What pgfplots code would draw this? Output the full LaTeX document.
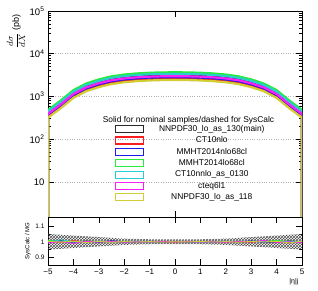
\documentclass[border=0pt]{standalone}
\usepackage{pgfplots}
\pgfplotsset{compat=1.18}
\usepackage{fontspec}
\setmainfont{Liberation Sans}
\usetikzlibrary{patterns}
\definecolor{rgreen}{RGB}{40,235,60}
\definecolor{rcyan}{RGB}{40,205,205}
\definecolor{rblue}{RGB}{30,30,235}
\definecolor{rred}{RGB}{250,30,30}
\definecolor{rmag}{RGB}{250,30,250}
\definecolor{ryel}{RGB}{210,205,50}
\definecolor{rblack}{RGB}{40,40,40}
\pgfplotsset{
  rootax/.style={
    scale only axis, width=254pt,
    tick align=inside, major tick length=6pt, minor tick length=3pt,
    axis line style={line width=0.9pt},
    tick style={black, line width=0.5pt},
    /pgf/number format/assume math mode=true,
    tick label style={font=\fontsize{8}{9}\selectfont},
    xmin=-5, xmax=5,
  }
}
\begin{document}
\begin{tikzpicture}
\useasboundingbox (0pt,0pt) rectangle (318pt,291pt);
% ---------------- top panel
\begin{axis}[rootax, at={(48pt,74pt)}, anchor=south west, height=206pt,
  ymode=log, ymin=1.5, ymax=100000,
  ytick={10,100,1000,10000,100000},
  yticklabels={10,10\textsuperscript{2},10\textsuperscript{3},10\textsuperscript{4},10\textsuperscript{5}},
  yticklabel style={font=\fontsize{9.5}{10}\selectfont},
  xtick={0}, xticklabels={}, 
  ymajorgrids, grid style={gray!60, dotted, line width=0.6pt},
  ylabel={$\displaystyle\frac{d\sigma}{dX}$ (pb)},
  ylabel style={at={(axis description cs:-0.126,1)}, anchor=east, font=\fontsize{9}{10}\selectfont},
  legend style={draw=none, fill=none, at={(rel axis cs:0.56,0.261)}, anchor=center,
    font=\fontsize{8.4}{9}\selectfont, row sep=2.6pt, column sep=14pt,
    nodes={inner sep=0.6pt}},
  legend cell align=center,
  legend image code/.code={\draw[#1, line width=1.1pt, fill=none] (0pt,-3.5pt) rectangle (28pt,3.5pt);},
  every axis plot/.append style={line width=2.2pt},
  clip=true,
]
\addplot[rblack] coordinates {(-5,1)(-5,408)(-4.5,680)(-4,1190)(-3.5,1700)(-3,2125)(-2.5,2508)(-2,2763)(-1.5,2933)(-1,3043)(-0.5,3103)(0,3120)(0.5,3103)(1,3043)(1.5,2933)(2,2763)(2.5,2508)(3,2125)(3.5,1700)(4,1190)(4.5,680)(5,408)(5,1)};
\addlegendentry{NNPDF30\_lo\_as\_130(main)}
\addplot[rred] coordinates {(-5,1)(-5,336)(-4.5,560)(-4,980)(-3.5,1400)(-3,1750)(-2.5,2065)(-2,2275)(-1.5,2415)(-1,2506)(-0.5,2555)(0,2569)(0.5,2555)(1,2506)(1.5,2415)(2,2275)(2.5,2065)(3,1750)(3.5,1400)(4,980)(4.5,560)(5,336)(5,1)};
\addlegendentry{CT10nlo}
\addplot[rblue] coordinates {(-5,1)(-5,370)(-4.5,616)(-4,1078)(-3.5,1540)(-3,1925)(-2.5,2272)(-2,2503)(-1.5,2657)(-1,2757)(-0.5,2811)(0,2826)(0.5,2811)(1,2757)(1.5,2657)(2,2503)(2.5,2272)(3,1925)(3.5,1540)(4,1078)(4.5,616)(5,370)(5,1)};
\addlegendentry{MMHT2014nlo68cl}
\addplot[rgreen] coordinates {(-5,1)(-5,480)(-4.5,800)(-4,1400)(-3.5,2000)(-3,2500)(-2.5,2950)(-2,3250)(-1.5,3450)(-1,3580)(-0.5,3650)(0,3670)(0.5,3650)(1,3580)(1.5,3450)(2,3250)(2.5,2950)(3,2500)(3.5,2000)(4,1400)(4.5,800)(5,480)(5,1)};
\addlegendentry{MMHT2014lo68cl}
\addplot[rcyan] coordinates {(-5,1)(-5,442)(-4.5,736)(-4,1288)(-3.5,1840)(-3,2300)(-2.5,2714)(-2,2990)(-1.5,3174)(-1,3294)(-0.5,3358)(0,3376)(0.5,3358)(1,3294)(1.5,3174)(2,2990)(2.5,2714)(3,2300)(3.5,1840)(4,1288)(4.5,736)(5,442)(5,1)};
\addlegendentry{CT10nnlo\_as\_0130}
\addplot[rmag] coordinates {(-5,1)(-5,389)(-4.5,648)(-4,1134)(-3.5,1620)(-3,2025)(-2.5,2390)(-2,2633)(-1.5,2795)(-1,2900)(-0.5,2957)(0,2973)(0.5,2957)(1,2900)(1.5,2795)(2,2633)(2.5,2390)(3,2025)(3.5,1620)(4,1134)(4.5,648)(5,389)(5,1)};
\addlegendentry{cteq6l1}
\addplot[ryel] coordinates {(-5,1)(-5,317)(-4.5,528)(-4,924)(-3.5,1320)(-3,1650)(-2.5,1947)(-2,2145)(-1.5,2277)(-1,2363)(-0.5,2409)(0,2422)(0.5,2409)(1,2363)(1.5,2277)(2,2145)(2.5,1947)(3,1650)(3.5,1320)(4,924)(4.5,528)(5,317)(5,1)};
\addlegendentry{NNPDF30\_lo\_as\_118}
\node[font=\fontsize{8.4}{9}\selectfont, anchor=center] at (rel axis cs:0.553,0.471) {Solid for nominal samples/dashed for SysCalc};
\node[font=\fontsize{7}{8}\selectfont, text=blue!80!black, anchor=south] at (rel axis cs:0.5,1.0) {p p > t t\textasciitilde};
\end{axis}
% ---------------- ratio panel
\begin{axis}[rootax, at={(48pt,26pt)}, anchor=south west, height=48pt,
  ymin=0.85, ymax=1.16,
  ytick={0.9,1,1.1}, yticklabels={0.9,1,1.1},
  yticklabel style={font=\fontsize{6.5}{7}\selectfont},
  minor y tick num=1,
  xtick={-5,-4,-3,-2,-1,0,1,2,3,4,5},
  xticklabels={−5,−4,−3,−2,−1,0,1,2,3,4,5},
  ylabel={SysCalc / MG},
  ylabel style={font=\fontsize{6}{7}\selectfont, yshift=-2pt},
  xlabel={|η|j},
  xlabel style={at={(axis description cs:1,0)}, anchor=north east, yshift=-10pt, font=\fontsize{7}{8}\selectfont},
  every axis plot/.append style={line width=0.9pt},
]
\addplot[draw=none, pattern=crosshatch, pattern color=black!70] coordinates {(-5,1.05)(-4.5,1.045)(-4,1.04)(-3.5,1.035)(-3,1.03)(-2.5,1.025)(-2,1.02)(-1.5,1.018)(-1,1.016)(-0.5,1.015)(0,1.015)(0.5,1.015)(1,1.016)(1.5,1.018)(2,1.02)(2.5,1.025)(3,1.03)(3.5,1.035)(4,1.04)(4.5,1.045)(5,1.05)
(5,0.95)(4.5,0.955)(4,0.96)(3.5,0.965)(3,0.97)(2.5,0.975)(2,0.98)(1.5,0.982)(1,0.984)(0.5,0.985)(0,0.985)(-0.5,0.985)(-1,0.984)(-1.5,0.982)(-2,0.98)(-2.5,0.975)(-3,0.97)(-3.5,0.965)(-4,0.96)(-4.5,0.955)(-5,0.95)} -- cycle;
\addplot[rblack] coordinates {(-5,1.00)(-4.5,1.01)(-4,0.995)(-3.5,1.005)(-3,1.0)(-2.5,1.004)(-2,0.998)(-1.5,1.002)(-1,1.0)(-0.5,0.998)(0,1.001)(0.5,1.0)(1,1.002)(1.5,0.999)(2,1.003)(2.5,0.998)(3,1.004)(3.5,1.0)(4,0.995)(4.5,1.006)(5,1.0)};
\addplot[rred] coordinates {(-5,1.005)(-4.5,0.995)(-4,1.008)(-3.5,0.997)(-3,1.003)(-2.5,0.998)(-2,1.002)(-1.5,0.998)(-1,1.002)(-0.5,1.0)(0,0.998)(0.5,1.002)(1,1.0)(1.5,1.003)(2,0.998)(2.5,1.002)(3,0.997)(3.5,1.006)(4,1.0)(4.5,0.994)(5,1.004)};
\addplot[rblue] coordinates {(-5,0.995)(-4.5,1.005)(-4,0.996)(-3.5,1.002)(-3,0.997)(-2.5,1.006)(-2,1.0)(-1.5,0.997)(-1,1.003)(-0.5,0.999)(0,1.002)(0.5,0.998)(1,1.001)(1.5,0.997)(2,1.002)(2.5,1.0)(3,1.005)(3.5,0.996)(4,1.004)(4.5,0.998)(5,0.995)};
\addplot[rgreen] coordinates {(-5,1.008)(-4.5,1.003)(-4,0.998)(-3.5,1.004)(-3,1.002)(-2.5,0.998)(-2,1.003)(-1.5,1.001)(-1,0.998)(-0.5,1.002)(0,1.0)(0.5,1.002)(1,0.999)(1.5,1.002)(2,1.0)(2.5,1.004)(3,1.0)(3.5,1.003)(4,1.008)(4.5,1.002)(5,0.997)};
\addplot[rcyan] coordinates {(-5,0.998)(-4.5,1.012)(-4,1.002)(-3.5,0.997)(-3,1.004)(-2.5,1.0)(-2,0.998)(-1.5,1.003)(-1,1.0)(-0.5,0.999)(0,1.002)(0.5,1.0)(1,0.998)(1.5,1.001)(2,1.003)(2.5,0.999)(3,1.002)(3.5,1.004)(4,0.998)(4.5,1.004)(5,1.002)};
\addplot[rmag] coordinates {(-5,0.992)(-4.5,1.0)(-4,0.99)(-3.5,1.003)(-3,0.998)(-2.5,1.002)(-2,0.997)(-1.5,1.0)(-1,0.998)(-0.5,1.002)(0,0.999)(0.5,1.001)(1,0.998)(1.5,1.0)(2,0.997)(2.5,1.003)(3,0.999)(3.5,1.008)(4,0.996)(4.5,1.0)(5,0.994)};
\addplot[ryel] coordinates {(-5,1.003)(-4.5,0.997)(-4,1.004)(-3.5,0.995)(-3,1.002)(-2.5,0.997)(-2,1.001)(-1.5,0.998)(-1,1.001)(-0.5,0.998)(0,1.0)(0.5,0.999)(1,1.002)(1.5,0.998)(2,1.001)(2.5,0.997)(3,1.002)(3.5,0.998)(4,1.003)(4.5,0.993)(5,1.003)};
\end{axis}
\end{tikzpicture}
\end{document}
